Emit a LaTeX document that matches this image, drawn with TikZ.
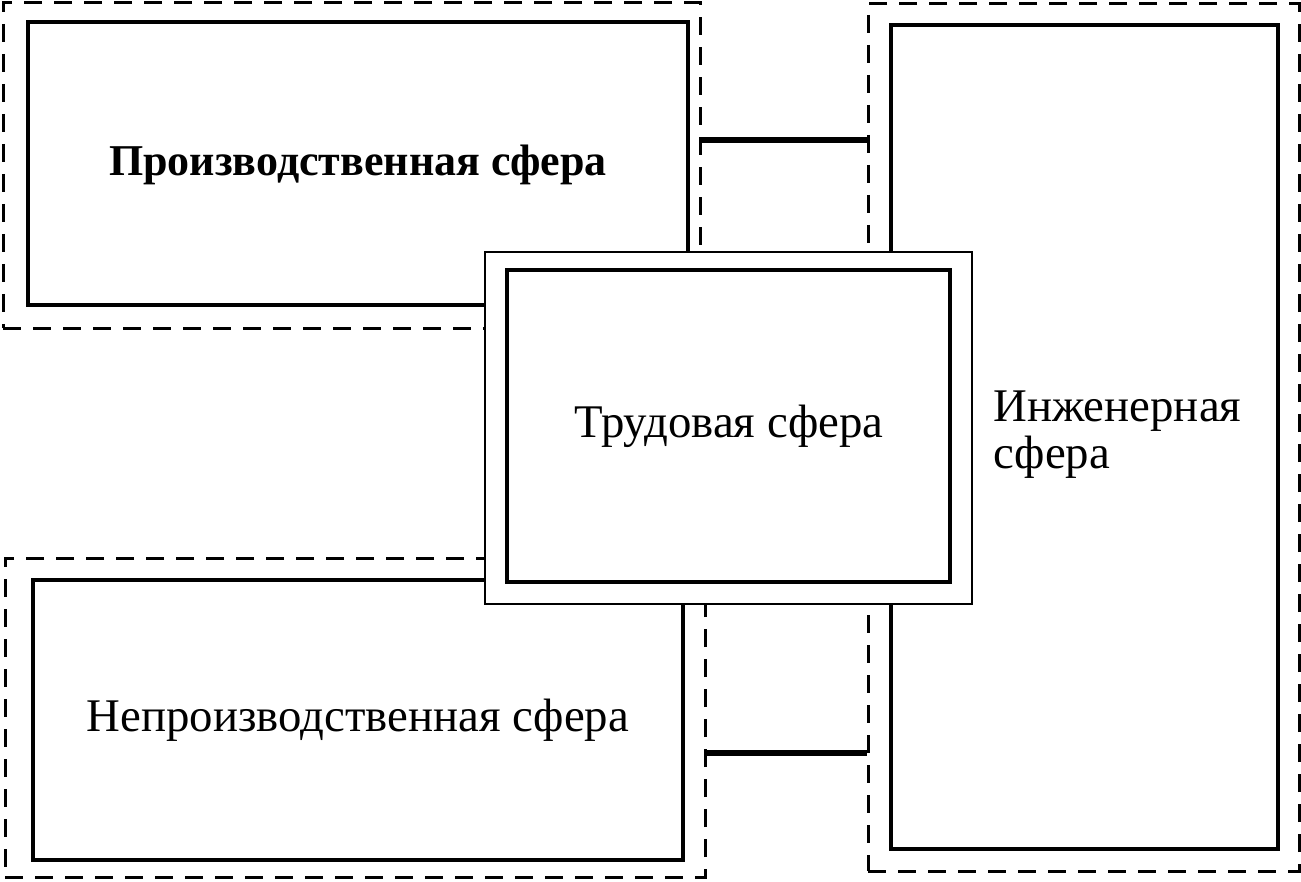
\documentclass[tikz,border=0pt]{standalone}
\usepackage{fontspec}
\setmainfont{Liberation Serif}
\usepackage{xcolor}
\usetikzlibrary{arrows.meta}

\tikzset{
  outerbox/.style={draw, line width=1.5pt, dash pattern=on 9pt off 6pt, inner sep=0pt, fill=white},
  innerbox/.style={draw, line width=1.6pt, inner sep=0pt, fill=white},
  frontbox/.style={draw, line width=1.3pt, inner sep=0pt, fill=white},
  link/.style={line width=3pt},
  lbl/.style={font=\fontsize{23.4}{23.5}\selectfont}
}

\begin{document}
\begin{tikzpicture}[x=0.5pt, y=-0.5pt]
    \useasboundingbox (0,0) rectangle (1301,882);

    \node[outerbox, minimum width=348.5pt, minimum height=162.5pt] (prodout) at (351.5,165.5) {};
    \node[innerbox, minimum width=330pt, minimum height=141.5pt] (prod) at (358,163.5) {};
    \node[font=\fontsize{22}{23.5}\selectfont\bfseries] at (358,165) {Производственная сфера};

    \node[outerbox, minimum width=350pt, minimum height=159.5pt] (nonprodout) at (355,717.5) {};
    \node[innerbox, minimum width=325pt, minimum height=140pt] (nonprod) at (358,720) {};
    \node[lbl] at (nonprod) {Непроизводственная сфера};

    \node[outerbox, minimum width=215.5pt, minimum height=433.5pt] (engout) at (1083.5,437.5) {};
    \node[innerbox, minimum width=193.5pt, minimum height=412pt] (eng) at (1084.5,437) {};
    \node[lbl, anchor=west, align=left, inner sep=0pt] (englbl) at (993,435) {Инженерная\\сфера};

    % links between the dashed frames
    \coordinate (ctop) at (780,140);
    \coordinate (cbot) at (780,753);
    \draw[link] (ctop -| prodout.east) -- (ctop -| engout.west);
    \draw[link] (cbot -| nonprodout.east) -- (cbot -| engout.west);

    \node[frontbox, minimum width=243.5pt, minimum height=176pt] (labourout) at (728.5,428) {};
    \node[innerbox, minimum width=221.5pt, minimum height=156pt] (labour) at (728.5,426) {};
    \node[lbl] at (729,426) {Трудовая сфера};
  \end{tikzpicture}
\end{document}
